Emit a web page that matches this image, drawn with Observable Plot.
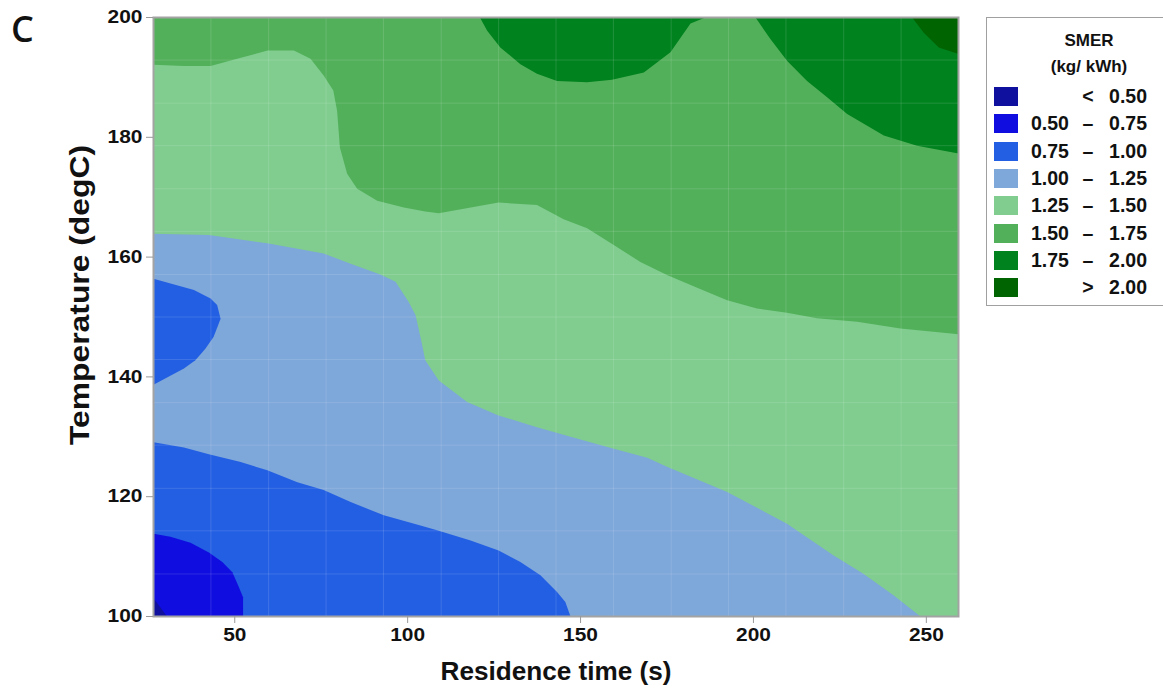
<!DOCTYPE html>
<html><head><meta charset="utf-8">
<script src="https://cdn.jsdelivr.net/npm/d3@7"></script>
<script src="https://cdn.jsdelivr.net/npm/@observablehq/plot@0.6"></script>
<style>
body{margin:0;background:#fff;}
#wrap{position:relative;width:1163px;height:698px;overflow:hidden;font-family:"Liberation Sans",Arial,sans-serif;}
#wrap svg text{font-weight:bold;}
#panel{position:absolute;left:11px;top:9px;z-index:5;font-family:"Open Sans",sans-serif;font-weight:600;font-size:36px;line-height:40px;color:#111;}
#legend{position:absolute;z-index:5;left:986px;top:17px;width:210px;height:289px;border:1.5px solid #a0a0a0;box-sizing:border-box;font-weight:bold;color:#111;background:#fff;}
#legend .t{position:absolute;left:0;width:204px;text-align:center;font-size:17px;}
#legend .row{position:absolute;left:0;width:204px;height:20px;font-size:19.5px;}
#legend .sw{position:absolute;left:7px;top:0;width:24px;height:19px;}
#legend .lo{position:absolute;left:44px;top:-2px;}
#legend .sy{position:absolute;left:90px;width:22px;text-align:center;top:-2px;}
#legend .hi{position:absolute;right:44px;top:-2px;text-align:right;}
</style></head><body><div id="wrap"><div id="panel">C</div></div>
<script>
// axis ticks
const xTicks = [50, 100, 150, 200, 250];
const yTicks = [100, 120, 140, 160, 180, 200];
const xDomain = [26.5, 259.3];
const yDomain = [100, 200];

// legend levels
const legendLow  = ["", "0.50", "0.75", "1.00", "1.25", "1.50", "1.75", ""];
const legendSym  = ["<", "–", "–", "–", "–", "–", "–", ">"];
const legendHigh = ["0.50", "0.75", "1.00", "1.25", "1.50", "1.75", "2.00", "2.00"];
const levelColors = ["#10109f", "#100de0", "#235fe3", "#7ea7da", "#80cd8f", "#52b05a", "#00821f", "#006400"];

// contour boundaries (residence time s, temperature degC)
const b125X = [26.5, 42.5, 59.4, 75.7, 83.5, 92.1, 96.5, 100.3, 102.3, 103.9, 105.1, 109.0, 117.2, 126.1, 137.4, 147.1, 159.6, 169.3, 175.0, 182.4, 192.4, 209.7, 223.2, 231.9, 240.6, 248.3, 259.3, 259.3, 26.5];
const b125Y = [163.9, 163.7, 162.3, 160.6, 158.9, 157.1, 155.9, 152.5, 150.3, 146.1, 142.8, 139.4, 135.8, 133.6, 131.6, 130.0, 128.0, 126.5, 125.0, 123.2, 120.8, 115.5, 110.2, 107.1, 103.5, 100, 100, 200, 200];

const b150X = [26.5, 35.3, 43.0, 50.7, 59.5, 67.1, 71.9, 75.7, 78.5, 79.6, 80.4, 82.5, 85.4, 91.2, 98.9, 105.1, 109.0, 126.3, 137.4, 145.1, 151.9, 159.6, 167.3, 175.0, 183.2, 192.4, 201.0, 209.7, 218.4, 230.0, 242.5, 259.3, 259.3, 26.5];
const b150Y = [192.1, 191.9, 191.9, 193.1, 194.5, 194.5, 193.1, 190.3, 187.8, 184.4, 178.3, 173.9, 171.4, 169.4, 168.3, 167.6, 167.3, 169.1, 168.7, 166.3, 164.8, 162.0, 159.2, 157.0, 155.0, 152.8, 151.4, 150.7, 149.8, 149.2, 148.1, 147.1, 200, 200];

const b175aX = [120.9, 123.0, 126.8, 132.6, 137.4, 143.2, 151.9, 159.1, 168.3, 176.0, 181.8, 186.1];
const b175aY = [200, 197.8, 195.0, 192.2, 190.6, 189.4, 189.2, 189.6, 190.8, 194.2, 199.0, 200];
const b175bX = [200.6, 204.9, 209.7, 215.5, 221.3, 227.1, 237.7, 247.3, 259.3, 259.3];
const b175bY = [200, 196.4, 192.8, 189.4, 186.7, 183.9, 180.3, 178.6, 177.3, 200];

const b200X = [245.9, 249.2, 253.6, 258.9, 259.3, 259.3];
const b200Y = [200, 197.5, 195.0, 194.0, 194.0, 200];

const b100X = [26.5, 35.3, 42.5, 51.7, 59.4, 68.1, 75.7, 83.5, 93.1, 103.7, 108.5, 118.2, 126.3, 132.6, 138.4, 143.2, 145.6, 147.1, 26.5];
const b100Y = [129.1, 128.2, 127.1, 125.8, 124.4, 122.4, 121.1, 119.1, 116.9, 115.2, 114.4, 112.7, 111.0, 109.1, 106.9, 104.1, 102.4, 100, 100];

const blobX = [26.5, 38.2, 43.0, 44.9, 45.9, 43.9, 41.5, 38.6, 35.3, 26.5];
const blobY = [156.4, 154.5, 153.1, 152.0, 149.7, 146.7, 144.7, 142.8, 141.4, 138.7];

const b075X = [26.5, 31.4, 37.2, 42.5, 46.4, 49.3, 51.2, 52.4, 52.4, 26.5];
const b075Y = [113.8, 113.3, 112.3, 110.7, 109.1, 107.4, 104.9, 103.2, 100, 100];

const b050X = [26.5, 30.4, 26.5];
const b050Y = [103.1, 100, 100];

// faint mesh of the contour patches
const meshX = [43.1, 59.8, 76.4, 93.0, 109.7, 126.3, 142.9, 159.5, 176.2, 192.8, 209.4, 226.1, 242.7];
const meshY = [107.1, 114.3, 121.4, 128.6, 135.7, 142.9, 150.0, 157.1, 164.3, 171.4, 178.6, 185.7, 192.9];

const pts = (xs, ys) => xs.map((x, i) => ({x, y: ys[i]}));
const region = (xs, ys, c) => Plot.line(pts(xs, ys), {x: "x", y: "y", fill: levelColors[c], stroke: "none", curve: "linear-closed"});

const chart = Plot.plot({
  width: 1163, height: 698,
  marginLeft: 153, marginRight: 205, marginTop: 17, marginBottom: 82,
  style: {fontFamily: "Liberation Sans, Arial, sans-serif", fontSize: "18px", color: "#111", background: "white"},
  x: {domain: xDomain},
  y: {domain: yDomain},
  marks: [
    Plot.frame({fill: levelColors[3], stroke: "none"}),
    region(b125X, b125Y, 4),
    region(b150X, b150Y, 5),
    region(b175aX, b175aY, 6),
    region(b175bX, b175bY, 6),
    region(b200X, b200Y, 7),
    region(b100X, b100Y, 2),
    region(blobX, blobY, 2),
    region(b075X, b075Y, 1),
    region(b050X, b050Y, 0),
    Plot.ruleX(meshX, {stroke: "white", strokeOpacity: 0.13}),
    Plot.ruleY(meshY, {stroke: "white", strokeOpacity: 0.13}),
    Plot.frame({stroke: "#a3a3a3", strokeWidth: 2}),
    Plot.axisX(xTicks, {tickSize: 7, tickPadding: 5, stroke: "#999", fill: "#111", fontSize: 18, fontWeight: "bold", label: null}),
    Plot.axisY(yTicks, {tickSize: 7, tickPadding: 4, stroke: "#999", fill: "#111", fontSize: 18, fontWeight: "bold", label: null}),
    Plot.text(["Residence time (s)"], {frameAnchor: "bottom", dy: 63, fontSize: 26, fontWeight: "bold", fill: "#111"}),
    Plot.text(["Temperature (degC)"], {frameAnchor: "left", textAnchor: "middle", rotate: -90, dx: -73, dy: -22, fontSize: 28, fontWeight: "bold", fill: "#111"})
  ]
});
const wrap = document.getElementById("wrap");
chart.style.position = "absolute"; chart.style.left = "0"; chart.style.top = "0";
wrap.insertBefore(chart, wrap.firstChild);

// widen tick labels like the reference; stretch axis titles to the reference lengths
chart.querySelectorAll('g[aria-label="x-axis tick label"] text, g[aria-label="y-axis tick label"] text').forEach(t => {
  const w = t.getComputedTextLength();
  t.setAttribute("textLength", (w * 1.16).toFixed(1));
  t.setAttribute("lengthAdjust", "spacingAndGlyphs");
});
chart.querySelectorAll("text").forEach(t => {
  if (t.textContent === "Temperature (degC)") { t.setAttribute("textLength", "300"); t.setAttribute("lengthAdjust", "spacingAndGlyphs"); }
  if (t.textContent === "Residence time (s)") { t.setAttribute("textLength", "231"); t.setAttribute("lengthAdjust", "spacingAndGlyphs"); }
});

// legend
const lg = document.createElement("div");
lg.id = "legend";
lg.innerHTML = `<div class="t" style="top:13px">SMER</div><div class="t" style="top:39px">(kg/ kWh)</div>` +
  legendHigh.map((h, i) => `<div class="row" style="top:${69 + i * 27.3}px"><div class="sw" style="background:${levelColors[i]}"></div>` +
    `<span class="lo">${legendLow[i]}</span><span class="sy">${legendSym[i]}</span><span class="hi">${h}</span></div>`).join("");
wrap.appendChild(lg);
</script>
</body></html>
